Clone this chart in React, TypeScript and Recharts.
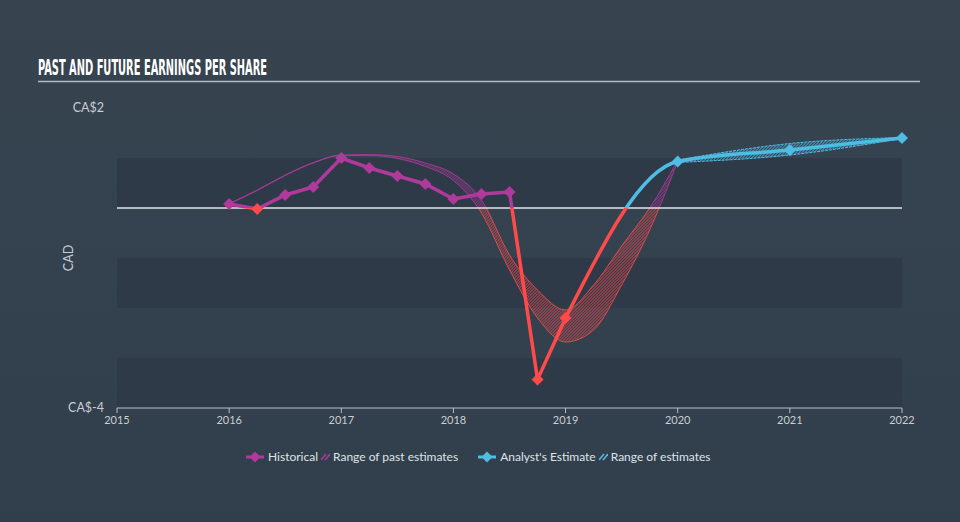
import React from "react";
import {
  ComposedChart,
  Line,
  Area,
  XAxis,
  YAxis,
  ReferenceArea,
  ReferenceLine,
} from "recharts";

const MAGENTA = "#b0399c";
const RED = "#ff4a4a";
const BLUE = "#4fbce4";
const BG = "#344250";
const BAND = "#2e3a47";
const TEXT = "#c9ced4";

// historical EPS, quarterly
const histYears = [2016, 2016.25, 2016.5, 2016.75, 2017, 2017.25, 2017.5, 2017.75, 2018, 2018.25, 2018.5, 2018.75, 2019];
const histEps = [0.08, -0.02, 0.26, 0.42, 1.0, 0.8, 0.64, 0.48, 0.18, 0.28, 0.32, -3.43, -2.2];

// analyst estimates
const estYears = [2019, 2020, 2021, 2022];
const estEps = [-2.2, 0.93, 1.16, 1.4];

// range of past estimates
const pastYears = [2016, 2016.25, 2016.5, 2016.75, 2017, 2017.25, 2017.5, 2017.75, 2018, 2018.25, 2018.5, 2018.75, 2019, 2019.25, 2019.5, 2019.75, 2020];
const pastLow = [0.08, 0.35, 0.65, 0.9, 1.05, 1.05, 0.99, 0.83, 0.55, -0.1, -1.24, -2.2, -2.68, -2.44, -1.54, -0.44, 0.93];
const pastHigh = [0.09, 0.36, 0.66, 0.91, 1.06, 1.07, 1.03, 0.9, 0.68, 0.16, -0.94, -1.64, -2.04, -1.54, -0.76, 0.0, 0.95];

// range of future estimates
const rangeYears = [2020, 2021, 2022];
const rangeLow = [0.91, 1.06, 1.39];
const rangeHigh = [0.96, 1.29, 1.41];

const xTicks = [2015, 2016, 2017, 2018, 2019, 2020, 2021, 2022];
const yTicks = [-4, 2];
const bands = [[0, 1], [-2, -1], [-4, -3]];

const allYears = Array.from(new Set([...histYears, ...estYears, ...pastYears, ...rangeYears])).sort((a, b) => a - b);
const rows = allYears.map((year) => {
  const h = histYears.indexOf(year);
  const e = estYears.indexOf(year);
  const p = pastYears.indexOf(year);
  const r = rangeYears.indexOf(year);
  return {
    year,
    hist: h >= 0 ? histEps[h] : null,
    est: e >= 0 ? estEps[e] : null,
    past: p >= 0 ? [pastLow[p], pastHigh[p]] : null,
    range: r >= 0 ? [rangeLow[r], rangeHigh[r]] : null,
  };
});

const diamond = (cx: number, cy: number, s: number) =>
  `M${cx},${cy - s}L${cx + s},${cy}L${cx},${cy + s}L${cx - s},${cy}Z`;

const HistDot = (props: any) => {
  const { cx, cy, payload, index } = props;
  if (payload.hist == null) return <g key={`h${index}`} />;
  return <path key={`h${index}`} d={diamond(cx, cy, 6)} fill={payload.hist < 0 ? RED : MAGENTA} />;
};

const EstDot = (props: any) => {
  const { cx, cy, payload, index } = props;
  if (payload.est == null || payload.year < 2020) return <g key={`e${index}`} />;
  return <path key={`e${index}`} d={diamond(cx, cy, 6)} fill={BLUE} />;
};

const LegendIcon = ({ color }: { color: string }) => (
  <svg width={18} height={12} style={{ marginRight: 4 }}>
    <line x1={0} y1={6} x2={18} y2={6} stroke={color} strokeWidth={3} />
    <path d={diamond(9, 6, 5.5)} fill={color} />
  </svg>
);

const HatchIcon = ({ color }: { color: string }) => (
  <svg width={9} height={10} style={{ margin: "0 3px" }}>
    <line x1={0} y1={8} x2={5} y2={2} stroke={color} strokeWidth={1.5} />
    <line x1={4} y1={8} x2={9} y2={2} stroke={color} strokeWidth={1.5} />
  </svg>
);

export default function App() {
  return (
    <div
      style={{
        position: "absolute",
        left: 0,
        top: 0,
        width: 960,
        height: 522,
        background: `linear-gradient(180deg, #37444f 0%, ${BG} 50%, #313e4b 100%)`,
        fontFamily: "Lato, 'Open Sans', sans-serif",
        overflow: "hidden",
      }}
    >
      <svg width={960} height={100} style={{ position: "absolute", left: 0, top: 0 }}>
        <text
          x={38}
          y={75}
          fill="#ffffff"
          fontFamily="'Liberation Sans Narrow', 'DejaVu Sans Condensed', sans-serif"
          fontWeight="bold"
          fontSize={20.5}
          textLength={229}
          lengthAdjust="spacingAndGlyphs"
        >
          PAST AND FUTURE EARNINGS PER SHARE
        </text>
        <line x1={38} y1={81.5} x2={920} y2={81.5} stroke="#b4bac1" strokeWidth={1.5} />
      </svg>

      <ComposedChart
        width={960}
        height={522}
        data={rows}
        margin={{ top: 108, right: 58, bottom: 84, left: 0 }}
      >
        <defs>
          <linearGradient id="histStroke" x1={0} y1={108} x2={0} y2={408} gradientUnits="userSpaceOnUse">
            <stop offset={0.3333} stopColor={MAGENTA} />
            <stop offset={0.3333} stopColor={RED} />
          </linearGradient>
          <linearGradient id="estStroke" x1={0} y1={108} x2={0} y2={408} gradientUnits="userSpaceOnUse">
            <stop offset={0.3333} stopColor={BLUE} />
            <stop offset={0.3333} stopColor={RED} />
          </linearGradient>
          <linearGradient id="pastHatchGrad" x1={0} y1={0} x2={0} y2={1}>
            <stop offset={0.3985} stopColor={MAGENTA} />
            <stop offset={0.3985} stopColor="#e8484c" />
          </linearGradient>
          <pattern id="pastHatch" patternUnits="userSpaceOnUse" width={3} height={522} patternTransform="skewX(-45)">
            <rect x={0} y={0} width={1.2} height={522} fill="url(#pastHatchGrad)" opacity={0.85} />
          </pattern>
          <pattern id="estHatch" patternUnits="userSpaceOnUse" width={3} height={522} patternTransform="skewX(-45)">
            <rect x={0} y={0} width={1.2} height={522} fill={BLUE} opacity={0.85} />
          </pattern>
        </defs>

        {bands.map(([a, b]) => (
          <ReferenceArea key={a} y1={a} y2={b} fill={BAND} fillOpacity={1} stroke="none" ifOverflow="extendDomain" />
        ))}

        <XAxis
          dataKey="year"
          type="number"
          domain={[2015, 2022]}
          ticks={xTicks}
          height={30}
          stroke="#b7c0c9"
          tick={{ fill: TEXT, fontSize: 11 }}
          tickSize={5}
          tickMargin={3}
          allowDecimals={false}
        />
        <YAxis
          type="number"
          domain={[-4, 2]}
          ticks={yTicks}
          width={117}
          axisLine={false}
          tickLine={false}
          tickSize={0}
          tickMargin={13}
          tick={{ fill: TEXT, fontSize: 12.5 }}
          tickFormatter={(v: number) => `CA$${v}`}
          label={{ value: "CAD", angle: -90, position: "center", dx: 10, fill: TEXT, fontSize: 12.5 }}
        />

        <Area
          dataKey="past"
          type="monotone"
          stroke="url(#histStroke)"
          strokeWidth={1}
          strokeOpacity={0.8}
          fill="url(#pastHatch)"
          fillOpacity={1}
          connectNulls
          isAnimationActive={false}
        />
        <Area
          dataKey="range"
          type="monotone"
          stroke={BLUE}
          strokeWidth={1}
          strokeDasharray="3 1"
          fill="url(#estHatch)"
          fillOpacity={1}
          connectNulls
          isAnimationActive={false}
        />

        <ReferenceLine y={0} stroke="#e2e5e8" strokeWidth={1.5} />

        <Line
          dataKey="hist"
          type="linear"
          stroke="url(#histStroke)"
          strokeWidth={3.5}
          dot={HistDot}
          activeDot={false}
          connectNulls
          isAnimationActive={false}
        />
        <Line
          dataKey="est"
          type="monotone"
          stroke="url(#estStroke)"
          strokeWidth={3.5}
          dot={EstDot}
          activeDot={false}
          connectNulls
          isAnimationActive={false}
        />
      </ComposedChart>

      <div
        style={{
          position: "absolute",
          top: 449,
          left: 246,
          display: "flex",
          alignItems: "center",
          fontSize: 12,
          color: "#dfe3e7",
          whiteSpace: "nowrap",
        }}
      >
        <LegendIcon color={MAGENTA} />
        <span>Historical</span>
        <HatchIcon color={MAGENTA} />
        <span>Range of past estimates</span>
        <span style={{ width: 20 }} />
        <LegendIcon color={BLUE} />
        <span>Analyst's Estimate</span>
        <HatchIcon color={BLUE} />
        <span>Range of estimates</span>
      </div>
    </div>
  );
}
